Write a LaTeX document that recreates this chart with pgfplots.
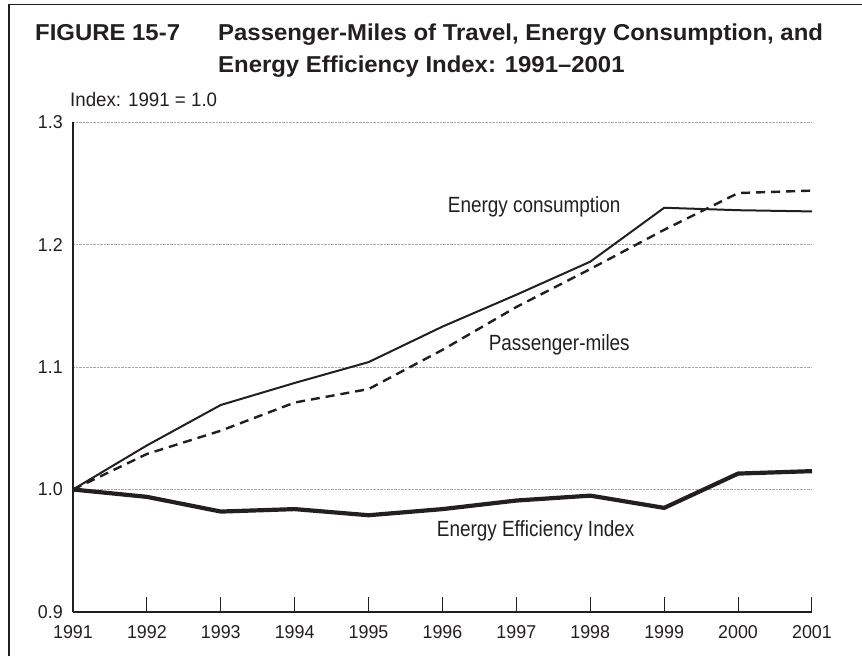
\documentclass[border=0pt]{standalone}
\usepackage{pgfplots}
\pgfplotsset{compat=1.18}
\usepackage{fontspec}
\setmainfont{Liberation Sans}[FakeStretch=0.96]
\newfontfamily\titlefont{Liberation Sans}[FakeStretch=1.04]
\newfontfamily\labfont{Liberation Sans}[FakeStretch=0.86]
\newfontfamily\tickfont{Liberation Sans}[FakeStretch=0.96]
\definecolor{ink}{HTML}{231F20}
\begin{document}
\begin{tikzpicture}[x=1pt,y=1pt]
\useasboundingbox (0,0) rectangle (862,-656);
\draw[ink,line width=1.5pt] (9,-656) -- (9,-4.5) -- (862,-4.5);
\node[anchor=base west,inner sep=0,font=\titlefont\fontsize{23}{27}\selectfont\bfseries,text=ink] at (35,-40) {FIGURE 15-7};
\node[anchor=base west,inner sep=0,font=\titlefont\fontsize{23}{27}\selectfont\bfseries,text=ink] at (218,-40) {Passenger-Miles of Travel, Energy Consumption, and};
\node[anchor=base west,inner sep=0,font=\titlefont\fontsize{23}{27}\selectfont\bfseries,text=ink] at (218,-72.7) {Energy Efficiency Index: 1991–2001};
\node[anchor=base west,inner sep=0,font=\fontsize{19.5}{23}\selectfont,text=ink] at (70,-106.7) {Index: 1991 = 1.0};
\begin{axis}[
  at={(73pt,-612pt)}, anchor=south west,
  scale only axis, width=739pt, height=490pt,
  xmin=1991, xmax=2001, ymin=0.9, ymax=1.3,
  axis lines*=left,
  axis line style={ink,line width=2pt},
  xtick={1991,1992,...,2001},
  ytick={0.9,1.0,1.1,1.2,1.3},
  tick align=inside,
  major tick length=15pt,
  x tick style={ink,line width=1pt},
  y tick style={draw=none},
  ymajorgrids,
  grid style={gray!70,densely dotted,line width=0.8pt},
  /pgf/number format/assume math mode=true,
  xticklabel style={/pgf/number format/1000 sep={},font=\tickfont\fontsize{18.6}{22}\selectfont,text=ink,inner sep=0pt,yshift=-13pt},
  yticklabel style={/pgf/number format/.cd,fixed,fixed zerofill,precision=1,/tikz/.cd,font=\tickfont\fontsize{18.6}{22}\selectfont,text=ink,inner sep=0pt,xshift=-10pt},
  clip=false,
]
\addplot[ink,line width=2pt] coordinates {
(1991,1.000) (1992,1.036) (1993,1.069) (1994,1.087) (1995,1.104) (1996,1.133) (1997,1.159) (1998,1.186) (1999,1.230) (2000,1.228) (2001,1.227)};
\addplot[ink,line width=2.4pt,dash pattern=on 9pt off 6pt] coordinates {
(1991,1.000) (1992,1.029) (1993,1.048) (1994,1.071) (1995,1.082) (1996,1.114) (1997,1.149) (1998,1.180) (1999,1.212) (2000,1.242) (2001,1.244)};
\addplot[ink,line width=4.2pt] coordinates {
(1991,1.000) (1992,0.994) (1993,0.982) (1994,0.984) (1995,0.979) (1996,0.984) (1997,0.991) (1998,0.995) (1999,0.985) (2000,1.013) (2001,1.015)};
\node[anchor=base,inner sep=0,font=\labfont\fontsize{22}{26}\selectfont,text=ink] at (axis cs:1997.24,1.226) {Energy consumption};
\node[anchor=base,inner sep=0,font=\labfont\fontsize{22}{26}\selectfont,text=ink] at (axis cs:1997.58,1.1135) {Passenger-miles};
\node[anchor=base,inner sep=0,font=\labfont\fontsize{22}{26}\selectfont,text=ink] at (axis cs:1997.26,0.9616) {Energy Efficiency Index};
\end{axis}
\end{tikzpicture}
\end{document}
